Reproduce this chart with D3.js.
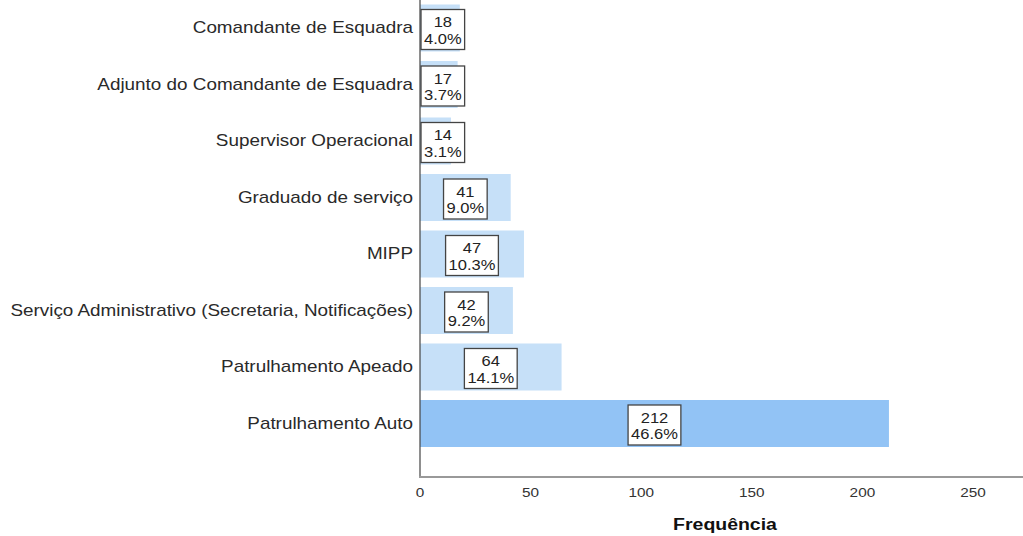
<!DOCTYPE html>
<html><head><meta charset="utf-8">
<script src="https://cdn.jsdelivr.net/npm/d3@7"></script>
<style>body{margin:0;background:#fff}svg{display:block}</style>
</head><body>
<svg id="c" width="1023" height="536"></svg>
<script>
const categories = ["Comandante de Esquadra","Adjunto do Comandante de Esquadra","Supervisor Operacional","Graduado de serviço","MIPP","Serviço Administrativo (Secretaria, Notificações)","Patrulhamento Apeado","Patrulhamento Auto"];
const counts = [18,17,14,41,47,42,64,212];
const percents = ["4.0%","3.7%","3.1%","9.0%","10.3%","9.2%","14.1%","46.6%"];
const xTicks = [0,50,100,150,200,250];
const highlight = "Patrulhamento Auto";

const SX = 1.18;
const svg = d3.select("#c");
const x = d3.scaleLinear().domain([0,250]).range([420,973]);
const y = d3.scaleBand().domain(categories).range([-0.25,451.75]).paddingInner(0.168).paddingOuter(0.084);
const font = "'Liberation Sans', Arial, sans-serif";

// bars
svg.append("g").selectAll("rect").data(categories).join("rect")
  .attr("x", x(0)).attr("y", d=>y(d))
  .attr("width", (d,i)=>x(counts[i])-x(0)).attr("height", y.bandwidth())
  .attr("fill", d=> d===highlight ? "#92c3f5" : "#c6e0f8");

// axes
svg.append("line").attr("x1",x(0)).attr("x2",x(0)).attr("y1",0).attr("y2",477)
  .attr("stroke","#444").attr("stroke-width",1.2);
svg.append("line").attr("x1",x(0)-1).attr("x2",1023).attr("y1",477).attr("y2",477)
  .attr("stroke","#999").attr("stroke-width",2);

function stext(g, tx, ty, str, size, anchor, weight, fill){
  const gg = g.append("g").attr("transform",`translate(${tx},${ty}) scale(${SX},1)`);
  return gg.append("text").attr("text-anchor",anchor).attr("font-family",font)
    .attr("font-size",size).attr("font-weight",weight||"normal").attr("fill",fill||"#222").text(str);
}

// category labels
const lg = svg.append("g");
categories.forEach(c=>{ stext(lg, 413, y(c)+y.bandwidth()/2+5, c, 16, "end", "normal", "#2a2a2a"); });

// tick labels
const tg = svg.append("g");
xTicks.forEach(t=>{ stext(tg, x(t), 497, String(t), 13, "middle", "normal", "#333"); });

// axis title
stext(svg, 725, 530, "Frequência", 16.5, "middle", "bold", "#111");

// value boxes
const bg = svg.append("g");
categories.forEach((c,i)=>{
  const cy = y(c)+y.bandwidth()/2+1.5;
  const cx0 = (x(0)+x(counts[i]))/2;
  const g = bg.append("g");
  const rect = g.append("rect");
  const t1 = stext(g, 0, 0, String(counts[i]), 14, "middle", "normal", "#222");
  const t2 = stext(g, 0, 0, percents[i], 14, "middle", "normal", "#222");
  const w = Math.max(t1.node().getComputedTextLength(), t2.node().getComputedTextLength())*SX + 6;
  let left = cx0 - w/2;
  if (left < 421) left = 421;
  const cx = left + w/2;
  t1.node().parentNode.setAttribute("transform",`translate(${cx},${cy-2.3}) scale(${SX},1)`);
  t2.node().parentNode.setAttribute("transform",`translate(${cx},${cy+14}) scale(${SX},1)`);
  rect.attr("x",left).attr("y",cy-20).attr("width",w).attr("height",40)
    .attr("fill","#fff").attr("stroke","#444").attr("stroke-width",1.3);
});
</script>
</body></html>
